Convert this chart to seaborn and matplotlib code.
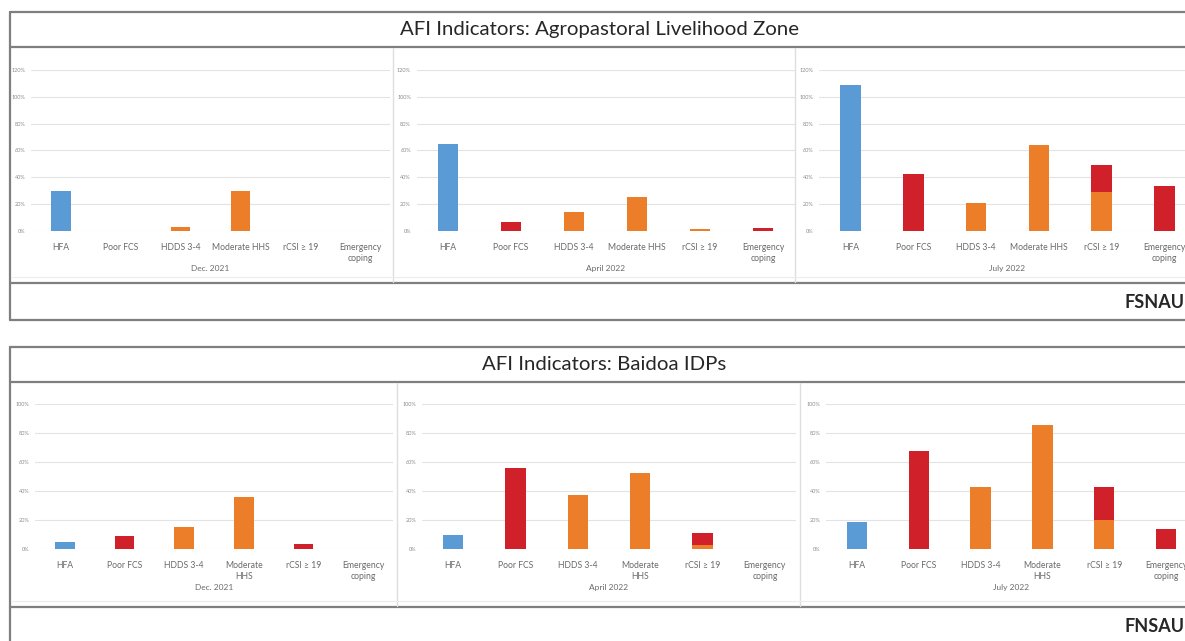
import matplotlib
matplotlib.use("Agg")
import matplotlib.pyplot as plt
import seaborn as sns
import pandas as pd
from matplotlib.lines import Line2D

# ---------------- data ----------------
categories_top = ["HFA", "Poor FCS", "HDDS 3-4", "Moderate HHS", "rCSI \u2265 19", "Emergency\ncoping"]
categories_bottom = ["HFA", "Poor FCS", "HDDS 3-4", "Moderate\nHHS", "rCSI \u2265 19", "Emergency\ncoping"]
periods = ["Dec. 2021", "April 2022", "July 2022"]

agro_dec21 = [30, 0, 2.5, 30, 0, 0]
agro_apr22 = [64.7, 6.7, 13.7, 25.4, 1.3, 2.2]
agro_jul22 = [108.7, 42.3, 20.4, 64, 49, 33.6]
agro_rcsi_orange = [0, 1.3, 29]          # orange lower part of the rCSI bar

baidoa_dec21 = [5, 9.2, 15, 35.6, 3.4, 0]
baidoa_apr22 = [9.7, 56, 37.2, 52.2, 11.3, 0]
baidoa_jul22 = [18.9, 67.6, 43, 85.5, 43, 13.6]
baidoa_rcsi_orange = [0, 2.5, 20]

top_ticks = [0, 20, 40, 60, 80, 100, 120]
bottom_ticks = [0, 20, 40, 60, 80, 100]

titles = ["AFI Indicators: Agropastoral Livelihood Zone", "AFI Indicators: Baidoa IDPs"]
footers = ["FSNAU", "FNSAU"]

BLUE, RED, ORANGE = "#5B9BD5", "#D0202A", "#EC7E2A"
bar_colors = [BLUE, RED, ORANGE, ORANGE, RED, RED]

# ---------------- figure ----------------
sns.set_theme(style="white")
plt.rcParams["font.family"] = ["Lato", "DejaVu Sans"]

W, H = 1185, 641
fig = plt.figure(figsize=(W / 100, H / 100), dpi=100)
fig.patch.set_facecolor("white")


def add_ax(x0, x1, y_top, y_bot):
    return fig.add_axes([x0 / W, 1 - y_bot / H, (x1 - x0) / W, (y_bot - y_top) / H])


def hline(y, x0=10, x1=1185, color="#7f7f7f", lw=1.6):
    fig.add_artist(Line2D([x0 / W, x1 / W], [1 - y / H, 1 - y / H],
                          transform=fig.transFigure, color=color, lw=lw))


def vline(x, y0, y1, color="#7f7f7f", lw=1.6):
    fig.add_artist(Line2D([x / W, x / W], [1 - y0 / H, 1 - y1 / H],
                          transform=fig.transFigure, color=color, lw=lw))


def draw(ax, cats, values, orange_base, ticks, period):
    df = pd.DataFrame({"cat": cats, "val": values})
    pal = dict(zip(cats, bar_colors))
    sns.barplot(data=df, x="cat", y="val", hue="cat", palette=pal, order=cats,
                width=0.33, legend=False, ax=ax, saturation=1, linewidth=0)
    base = [0, 0, 0, 0, orange_base, 0]
    df2 = pd.DataFrame({"cat": cats, "val": base})
    sns.barplot(data=df2, x="cat", y="val", color=ORANGE, order=cats,
                width=0.33, ax=ax, saturation=1, linewidth=0)
    ax.set_ylim(0, ticks[-1])
    ax.set_xlim(-0.5, 5.5)
    ax.set_yticks(ticks)
    ax.set_yticklabels([f"{t}%" for t in ticks], fontsize=4, color="#8c8c8c")
    ax.yaxis.grid(True, color="#e3e3e3", lw=0.8)
    ax.set_axisbelow(True)
    for s in ax.spines.values():
        s.set_visible(False)
    ax.tick_params(axis="both", length=0, pad=4)
    ax.tick_params(axis="x", labelsize=6.2, labelcolor="#6a6a6a", pad=9)
    ax.set_ylabel("")
    ax.set_xlabel(period, fontsize=6, color="#6a6a6a", labelpad=2)
    ax.patch.set_alpha(0)


# top panel
top_x = [(31, 390), (416.5, 794.5), (819, 1196)]
top_vals = [agro_dec21, agro_apr22, agro_jul22]
for i in range(3):
    ax = add_ax(top_x[i][0], top_x[i][1], 70, 230.7)
    draw(ax, categories_top, top_vals[i], agro_rcsi_orange[i], top_ticks, periods[i])

# bottom panel
bot_x = [(35, 393), (422, 796), (826, 1197)]
bot_vals = [baidoa_dec21, baidoa_apr22, baidoa_jul22]
for i in range(3):
    ax = add_ax(bot_x[i][0], bot_x[i][1], 404, 549)
    draw(ax, categories_bottom, bot_vals[i], baidoa_rcsi_orange[i], bottom_ticks, periods[i])

# frames
for y in (12, 47, 283, 320):
    hline(y)
vline(10, 12, 320)
for y in (347, 382, 607):
    hline(y)
vline(10, 347, 641)
for x in (393, 795):
    vline(x, 48, 282, color="#dedede", lw=1)
for x in (397, 800):
    vline(x, 383, 606, color="#dedede", lw=1)
hline(277, 12, 1185, color="#ececec", lw=0.8)
hline(601, 12, 1185, color="#ececec", lw=0.8)

# titles and footers
fig.text(600 / W, 1 - 30 / H, titles[0], ha="center", va="center", fontsize=14.7, color="#262626")
fig.text(604 / W, 1 - 365 / H, titles[1], ha="center", va="center", fontsize=14.7, color="#262626")
fig.text(1184 / W, 1 - 302 / H, footers[0], ha="right", va="center", fontsize=13,
         color="#262626", fontweight="bold")
fig.text(1184 / W, 1 - 627 / H, footers[1], ha="right", va="center", fontsize=13,
         color="#262626", fontweight="bold")

fig.savefig("out.png", dpi=100, facecolor="white")
